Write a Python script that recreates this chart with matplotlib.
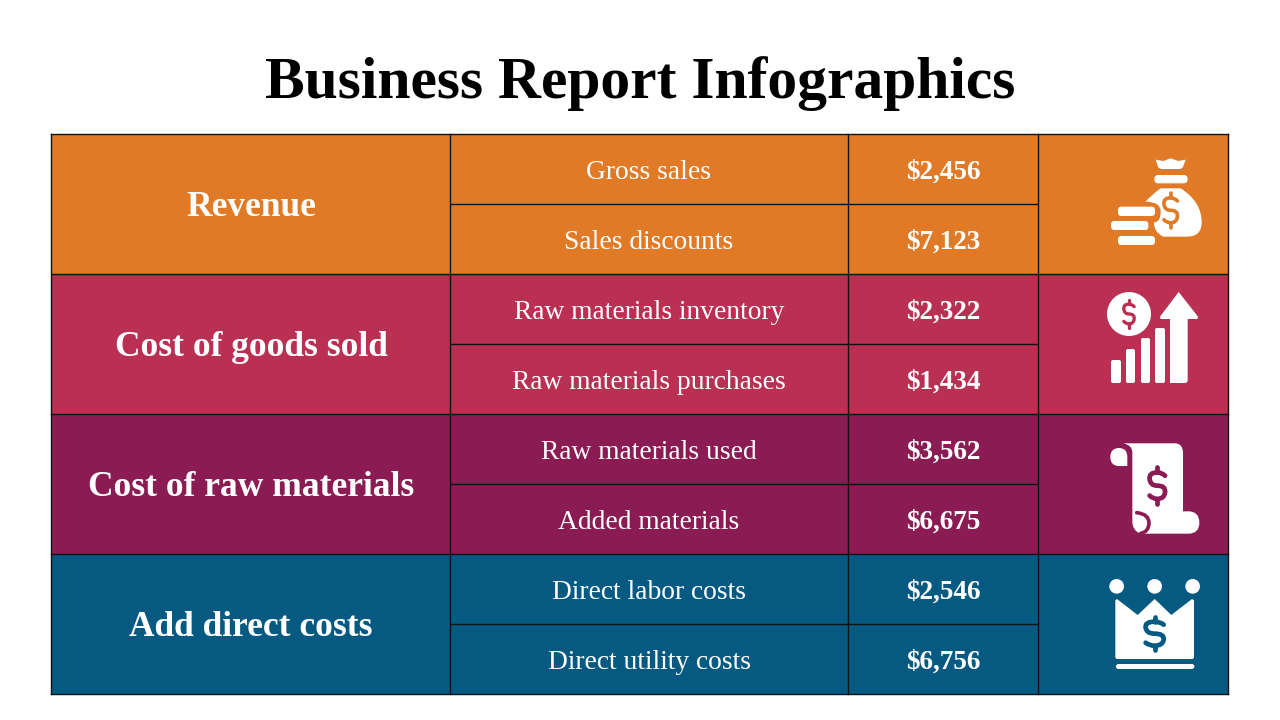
import matplotlib
matplotlib.use("Agg")
import matplotlib.pyplot as plt
from matplotlib.patches import Rectangle, FancyBboxPatch, Circle, PathPatch, Polygon
from matplotlib.path import Path

TITLE = "Business Report Infographics"
groups = ["Revenue", "Cost of goods sold", "Cost of raw materials", "Add direct costs"]
group_colors = ["#E17A27", "#BA3053", "#8A1C53", "#065A82"]
items = [["Gross sales", "Sales discounts"],
         ["Raw materials inventory", "Raw materials purchases"],
         ["Raw materials used", "Added materials"],
         ["Direct labor costs", "Direct utility costs"]]
amounts = [["$2,456", "$7,123"], ["$2,322", "$1,434"], ["$3,562", "$6,675"], ["$2,546", "$6,756"]]

SERIF = ["Liberation Serif", "DejaVu Serif"]
fig = plt.figure(figsize=(12.8, 7.2), dpi=100)
ax = fig.add_axes([0, 0, 1, 1])
ax.set_xlim(0, 1280); ax.set_ylim(720, 0); ax.axis("off")

X = [51.0, 450.0, 848.0, 1038.0, 1227.6]
Y0, RH = 134.0, 140.1
LINE = "#111111"

ax.text(640, 84, TITLE, ha="center", va="center", fontsize=42.8, fontweight="bold", family=SERIF, color="black")

for i, g in enumerate(groups):
    top = Y0 + i * RH
    mid = top + RH / 2
    ax.add_patch(Rectangle((X[0], top), X[4] - X[0], RH, fc=group_colors[i], ec="none", zorder=1))
    ax.text((X[0] + X[1]) / 2 + 0.5, mid + 3, g, ha="center", va="center", color="white", fontsize=25.5,
            fontweight="bold", family=SERIF, zorder=3)
    for j in range(2):
        cy = top + RH * (j + 0.5) / 2 + 3
        ax.text((X[1] + X[2]) / 2, cy, items[i][j], ha="center", va="center", color="white",
                fontsize=19.8, family=SERIF, zorder=3)
        ax.text((X[2] + X[3]) / 2, cy, amounts[i][j], ha="center", va="center", color="white",
                fontsize=19.5, fontweight="bold", family=SERIF, zorder=3)
    ax.plot([X[1], X[3]], [mid, mid], color=LINE, lw=1, zorder=2, solid_capstyle="butt")

for i in range(len(groups) + 1):
    y = Y0 + i * RH
    ax.plot([X[0], X[4]], [y, y], color=LINE, lw=1, zorder=2)
for x in X:
    ax.plot([x, x], [Y0, Y0 + 4 * RH], color=LINE, lw=1, zorder=2)


# ---- icons: coordinates below are in the icon's own pixel frame -----
def rbar(ox, oy, x0, y0, x1, y1, r, c="white", z=4):
    ax.add_patch(FancyBboxPatch((ox + x0 / 3 + r, oy + y0 / 3 + r), (x1 - x0) / 3 - 2 * r, (y1 - y0) / 3 - 2 * r,
                                boxstyle=f"round,pad={r},rounding_size={r}", fc=c, ec="none", zorder=z))

def poly(ox, oy, pts, c="white", z=4):
    ax.add_patch(Polygon([(ox + a / 3, oy + b / 3) for a, b in pts], closed=True, fc=c, ec="none", zorder=z, joinstyle="round"))

def circ(ox, oy, x, y, r, c="white", z=4):
    ax.add_patch(Circle((ox + x / 3, oy + y / 3), r / 3, fc=c, ec="none", zorder=z))

def curve(ox, oy, verts, codes, c="white", z=4, fill=True, lw=0):
    v = [(ox + a / 3, oy + b / 3) for a, b in verts]
    ax.add_patch(PathPatch(Path(v, codes), fc=c if fill else "none", ec=c if not fill else "none", lw=lw, zorder=z,
                           capstyle="round"))

def dollar(ox, oy, cx, cy, h, c, lw, wide=1.0):
    w = h * 0.27 * wide
    s = h * 0.36
    M, C3, L = Path.MOVETO, Path.CURVE3, Path.LINETO
    verts = [(cx + w, cy - s * 0.75), (cx + w * 0.6, cy - s), (cx, cy - s), (cx - w * 1.1, cy - s), (cx - w, cy - s * 0.5),
             (cx - w * 0.9, cy), (cx, cy), (cx + w * 1.1, cy), (cx + w, cy + s * 0.5), (cx + w * 0.9, cy + s), (cx, cy + s),
             (cx - w * 0.6, cy + s), (cx - w, cy + s * 0.75)]
    codes = [M] + [C3] * 12
    curve(ox, oy, verts, codes, c=c, z=5, fill=False, lw=lw)
    curve(ox, oy, [(cx, cy - h / 2), (cx, cy - s)], [M, L], c=c, z=5, fill=False, lw=lw)
    curve(ox, oy, [(cx, cy + s), (cx, cy + h / 2)], [M, L], c=c, z=5, fill=False, lw=lw)


M, L, C3, CL = Path.MOVETO, Path.LINETO, Path.CURVE3, Path.CLOSEPOLY

# money bag
ox, oy = 1040, 135
c = group_colors[0]
poly(ox, oy, [(347, 74), (370, 78), (392, 70), (415, 78), (437, 74), (428, 98), (420, 102), (364, 102), (355, 98)])
rbar(ox, oy, 343, 120, 443, 145, 4)
curve(ox, oy, [(362, 160), (422, 160), (485, 200), (485, 262), (485, 305), (440, 305), (370, 305), (340, 290), (342, 262),
               (362, 262), (362, 230), (362, 200), (316, 200), (340, 175), (362, 160), (362, 160)],
      [M, L, C3, C3, C3, C3, L, C3, C3, C3, C3, C3, C3, C3, L, CL])
dollar(ox, oy, 392, 226, 104, c, 2.6, wide=0.72)
rbar(ox, oy, 234, 215, 345, 243, 3.5)
rbar(ox, oy, 213, 258, 325, 285, 3.5)
rbar(ox, oy, 234, 303, 345, 330, 3.5)

# growth bars
c = group_colors[1]
circ(ox, oy, 267, 537, 66)
dollar(ox, oy, 267, 537, 82, c, 2.4, wide=0.7)
rbar(ox, oy, 213, 675, 243, 744, 2)
rbar(ox, oy, 258, 642, 285, 744, 2)
rbar(ox, oy, 303, 609, 330, 744, 2)
rbar(ox, oy, 345, 579, 375, 744, 2)
poly(ox, oy, [(416, 471), (474, 545), (472, 552), (443, 552), (443, 738), (438, 744), (390, 744), (390, 552), (362, 552), (360, 545)])

# scroll
ox, oy = 1040, 415
c = group_colors[2]
curve(ox, oy, [(250, 85), (405, 85), (429, 85), (429, 115), (429, 289), (445, 289), (478, 289), (478, 323), (478, 356),
               (445, 356), (300, 356), (277, 345), (277, 320), (277, 110), (275, 90), (250, 85), (250, 85)],
      [M, L, C3, C3, L, L, C3, C3, C3, C3, L, C3, C3, L, C3, C3, CL])
curve(ox, oy, [(262, 153), (237, 153), (211, 153), (211, 126), (211, 99), (237, 99), (262, 99), (262, 126), (262, 153), (262, 153)],
      [M, L, C3, C3, C3, C3, C3, C3, L, CL])
curve(ox, oy, [(290, 293), (328, 297), (327, 325), (325, 352), (302, 355)], [M, C3, C3, C3, C3], c=c, z=5, fill=False, lw=2.6)
dollar(ox, oy, 352, 212, 110, c, 3.4, wide=0.78)

# crown
c = group_colors[3]
ox, oy = 1040, 415
for x in (230, 344, 458):
    circ(ox, oy, x, 514, 22)
poly(ox, oy, [(226, 556), (231, 552), (293, 600), (344, 552), (394, 600), (456, 552), (462, 556), (462, 728), (458, 732), (230, 732), (226, 728)])
rbar(ox, oy, 228, 747, 463, 762, 2.5)
dollar(ox, oy, 344, 656, 100, c, 3.4, wide=1.0)

fig.savefig("out.png", dpi=100)
